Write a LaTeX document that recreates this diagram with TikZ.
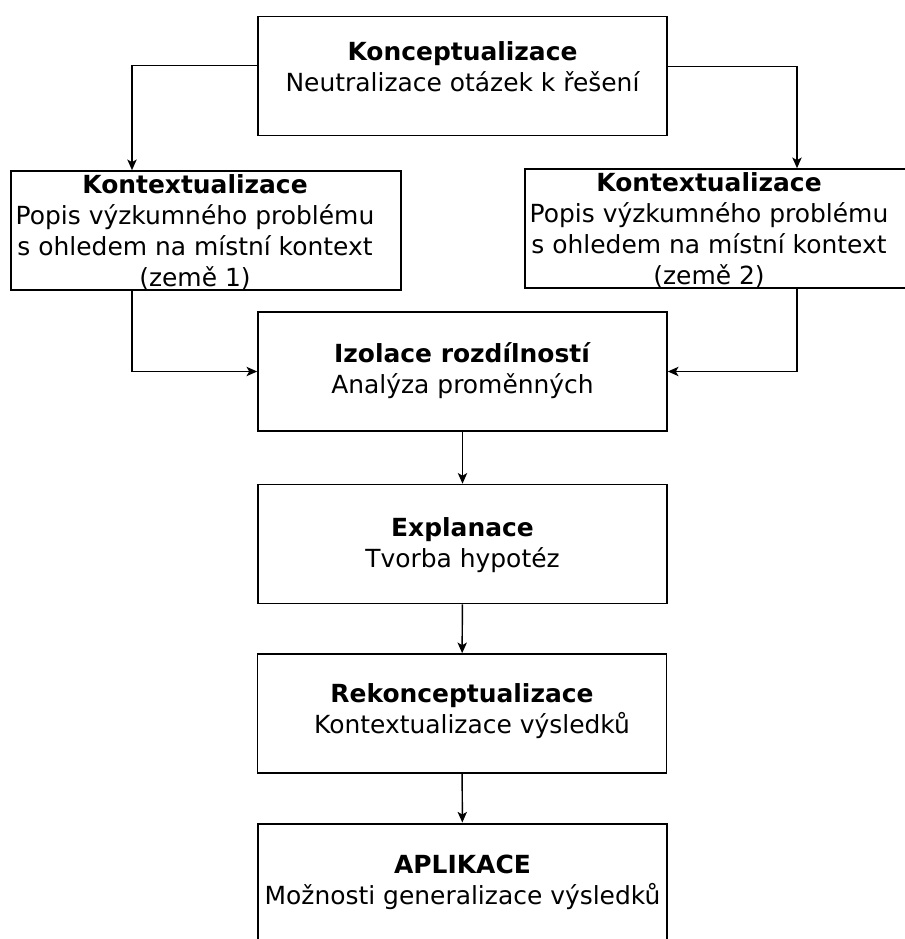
\documentclass[tikz,border=0pt]{standalone}
\usepackage{fontspec}
\setmainfont{DejaVu Sans}
\usetikzlibrary{arrows.meta}

% one stage: bold title, then the description; #1 lifts the text
\newcommand{\stagetext}[3][0pt]{\begin{tabular}{@{}c@{}}\textbf{#2}\rule{0pt}{21pt}\\#3\\[#1]\end{tabular}}

\tikzset{
    stage/.style={draw, line width=1.2pt, minimum width=306.75pt, minimum height=89.25pt, inner sep=0pt,
        font=\fontsize{18.7}{23.25}\selectfont},
    ctx/.style={stage, minimum width=292.5pt, inner ysep=-4.25pt},
    arr/.style={draw, line width=1.1pt, -{Stealth[length=8pt, width=7pt, inset=2pt]}}
}

\begin{document}
\begin{tikzpicture}[x=0.75pt, y=-0.75pt]
    \useasboundingbox (0,0) rectangle (904,939);
    % boxes
    \node[stage] (konc) at (462.5,76) {\stagetext[14pt]{Konceptualizace}{Neutralizace otázek k řešení}};
    \node[ctx] (kont1) at (206,230.5) {\stagetext{Kontextualizace}{Popis výzkumného problému\\s ohledem na místní kontext\\(země 1)}\hspace*{16.5pt}};
    \node[ctx] (kont2) at (720,228.5) {\stagetext{Kontextualizace}{Popis výzkumného problému\\s ohledem na místní kontext\\(země 2)}\hspace*{16.5pt}};
    \node[stage] (izol) at (462.5,371.5) {\stagetext[4pt]{Izolace rozdílností}{Analýza proměnných}};
    \node[stage] (expl) at (462.5,544) {\stagetext[2pt]{Explanace}{Tvorba hypotéz}};
    \node[stage] (rekon) at (462,713.5) {\stagetext[8pt]{Rekonceptualizace}{\hspace*{15pt}Kontextualizace výsledků}};
    \node[stage, line width=2.2pt] (apl) at (462.5,883.5) {\stagetext[6pt]{APLIKACE}{Možnosti generalizace výsledků}};

    % connectors
    \draw[arr] ([yshift=8pt]konc.west) -| ([xshift=-55.5pt]kont1.north);
    \draw[arr] ([yshift=7pt]konc.east) -| ([xshift=57.75pt]kont2.north);
    \draw[arr] ([xshift=-55.5pt]kont1.south) |- (izol.west);
    \draw[arr] ([xshift=57.75pt]kont2.south) |- (izol.east);
    \draw[arr] (izol) -- (expl);
    \draw[arr] (expl) -- (rekon);
    \draw[arr] (rekon) -- (apl);
\end{tikzpicture}
\end{document}
